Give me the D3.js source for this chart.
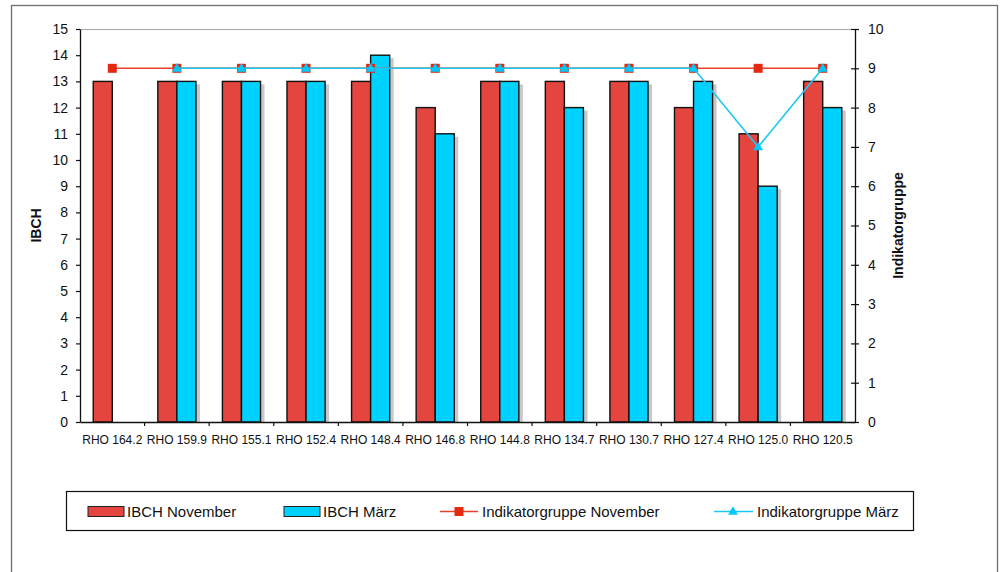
<!DOCTYPE html>
<html>
<head>
<meta charset="utf-8">
<script src="https://cdn.jsdelivr.net/npm/d3@7"></script>
<style>
  body { margin: 0; background: #fff; }
  svg { display: block; font-family: "Liberation Sans", Arial, sans-serif; }
</style>
</head>
<body>
<svg id="chart" width="1005" height="572"></svg>
<script>
// Sampling stations along the river
const categories = ["RHO 164.2", "RHO 159.9", "RHO 155.1", "RHO 152.4", "RHO 148.4", "RHO 146.8",
                    "RHO 144.8", "RHO 134.7", "RHO 130.7", "RHO 127.4", "RHO 125.0", "RHO 120.5"];
// IBCH index values (left axis)
const ibchNovember = [13, 13, 13, 13, 13, 12, 13, 13, 13, 12, 11, 13];
const ibchMaerz    = [null, 13, 13, 13, 14, 11, 13, 12, 13, 13, 9, 12];
// Indicator group (right axis)
const indNovember  = [9, 9, 9, 9, 9, 9, 9, 9, 9, 9, 9, 9];
const indMaerz     = [null, 9, 9, 9, 9, 9, 9, 9, 9, 9, 7, 9];
const leftTicks  = d3.range(0, 16);
const rightTicks = d3.range(0, 11);

const colNovBar = "#e5453f";
const colMarBar = "#00d2ff";
const colNovLine = "#e8402a";
const colNovMark = "#e32a10";
const colMarLine = "#1cc8f2";
const colMarMark = "#00c8ff";

const svg = d3.select("#chart");
const plot = { left: 80, right: 855, top: 29, bottom: 422 };

// outer chart frame
svg.append("rect").attr("x", 11.5).attr("y", 5.5).attr("width", 986).attr("height", 620)
  .attr("fill", "none").attr("stroke", "#6e6e6e").attr("stroke-width", 1.3);

const x = d3.scaleBand().domain(categories).range([plot.left, plot.right]).padding(0);
const yL = d3.scaleLinear().domain([0, 15]).range([plot.bottom, plot.top]);
const yR = d3.scaleLinear().domain([0, 10]).range([plot.bottom, plot.top]);
const bw = x.bandwidth() * 0.295;

// plot area top border
svg.append("line").attr("x1", plot.left).attr("x2", plot.right)
  .attr("y1", plot.top + 0.5).attr("y2", plot.top + 0.5)
  .attr("stroke", "#a8a8a8").attr("stroke-width", 1);

// bars: November
svg.append("g").selectAll("rect")
  .data(categories.map((c, i) => ({ c, v: ibchNovember[i] })).filter(d => d.v != null))
  .join("rect")
  .attr("x", d => x(d.c) + x.bandwidth() / 2 - bw)
  .attr("y", d => yL(d.v))
  .attr("width", bw)
  .attr("height", d => yL(0) - yL(d.v))
  .attr("fill", colNovBar).attr("stroke", "#111").attr("stroke-width", 1.4);

// bars: März with drop shadow
const marData = categories.map((c, i) => ({ c, v: ibchMaerz[i] })).filter(d => d.v != null);
svg.append("g").selectAll("rect")
  .data(marData)
  .join("rect")
  .attr("x", d => x(d.c) + x.bandwidth() / 2 + 4)
  .attr("y", d => yL(d.v) + 3)
  .attr("width", bw)
  .attr("height", d => yL(0) - yL(d.v) - 3)
  .attr("fill", "#c8c8c8");
svg.append("g").selectAll("rect")
  .data(marData)
  .join("rect")
  .attr("x", d => x(d.c) + x.bandwidth() / 2)
  .attr("y", d => yL(d.v))
  .attr("width", bw)
  .attr("height", d => yL(0) - yL(d.v))
  .attr("fill", colMarBar).attr("stroke", "#111").attr("stroke-width", 1.4);

// left axis
const gL = svg.append("g").attr("transform", `translate(${plot.left},0)`)
  .call(d3.axisLeft(yL).tickValues(leftTicks).tickFormat(d3.format("d")).tickSize(4).tickPadding(8).tickSizeOuter(0));
gL.select(".domain").attr("stroke", "#111").attr("stroke-width", 1.3);
gL.selectAll(".tick line").attr("stroke", "#111").attr("stroke-width", 1.2);
gL.selectAll("text").attr("font-size", 14).attr("fill", "#111")
  .attr("font-family", "'Liberation Sans', Arial, sans-serif");

// right axis with crossing ticks
const gR = svg.append("g").attr("transform", `translate(${plot.right},0)`)
  .call(d3.axisRight(yR).tickValues(rightTicks).tickFormat(d3.format("d")).tickSize(4).tickPadding(9).tickSizeOuter(0));
gR.select(".domain").attr("stroke", "#111").attr("stroke-width", 1.3);
gR.selectAll(".tick line").attr("x1", -4).attr("stroke", "#111").attr("stroke-width", 1.2);
gR.selectAll("text").attr("font-size", 14).attr("fill", "#111")
  .attr("font-family", "'Liberation Sans', Arial, sans-serif");

// bottom axis: labels centred in bands, ticks between categories
const gB = svg.append("g").attr("transform", `translate(0,${plot.bottom})`)
  .call(d3.axisBottom(x).tickSize(0).tickPadding(13));
gB.select(".domain").attr("stroke", "#111").attr("stroke-width", 1.3);
gB.selectAll("text").attr("font-size", 12).attr("fill", "#111")
  .attr("font-family", "'Liberation Sans', Arial, sans-serif");
gB.append("g").selectAll("line")
  .data(categories.slice(1))
  .join("line")
  .attr("x1", d => x(d)).attr("x2", d => x(d))
  .attr("y1", 0).attr("y2", 4)
  .attr("stroke", "#111").attr("stroke-width", 1.2);

// Indikatorgruppe lines
const lineGen = d3.line()
  .defined(d => d.v != null)
  .x(d => x(d.c) + x.bandwidth() / 2)
  .y(d => yR(d.v));
const novPts = categories.map((c, i) => ({ c, v: indNovember[i] }));
const marPts = categories.map((c, i) => ({ c, v: indMaerz[i] }));

svg.append("path").datum(novPts).attr("d", lineGen)
  .attr("fill", "none").attr("stroke", colNovLine).attr("stroke-width", 1.6);
svg.append("g").selectAll("rect")
  .data(novPts.filter(d => d.v != null))
  .join("rect")
  .attr("x", d => x(d.c) + x.bandwidth() / 2 - 4.5)
  .attr("y", d => yR(d.v) - 4.5)
  .attr("width", 9).attr("height", 9)
  .attr("fill", colNovMark);

svg.append("path").datum(marPts).attr("d", lineGen)
  .attr("fill", "none").attr("stroke", colMarLine).attr("stroke-width", 1.6);
const tri = d3.symbol().type(d3.symbolTriangle).size(42);
svg.append("g").selectAll("path")
  .data(marPts.filter(d => d.v != null))
  .join("path")
  .attr("d", tri)
  .attr("transform", d => `translate(${x(d.c) + x.bandwidth() / 2},${yR(d.v) + 0.5})`)
  .attr("fill", colMarMark);

// axis titles
svg.append("text")
  .attr("transform", `translate(41,${(plot.top + plot.bottom) / 2}) rotate(-90)`)
  .attr("text-anchor", "middle").attr("font-size", 14).attr("font-weight", "bold").attr("fill", "#111")
  .text("IBCH");
svg.append("text")
  .attr("transform", `translate(903,${(plot.top + plot.bottom) / 2}) rotate(-90)`)
  .attr("text-anchor", "middle").attr("font-size", 14).attr("font-weight", "bold").attr("fill", "#111")
  .text("Indikatorgruppe");

// legend
const lg = svg.append("g");
lg.append("rect").attr("x", 66.5).attr("y", 491.5).attr("width", 847).attr("height", 39)
  .attr("fill", "#fff").attr("stroke", "#111").attr("stroke-width", 1.2);
const ly = 511.5;
lg.append("rect").attr("x", 88).attr("y", ly - 5).attr("width", 36).attr("height", 10)
  .attr("fill", colNovBar).attr("stroke", "#222").attr("stroke-width", 1);
lg.append("rect").attr("x", 284).attr("y", ly - 5).attr("width", 36).attr("height", 10)
  .attr("fill", colMarBar).attr("stroke", "#222").attr("stroke-width", 1);
lg.append("line").attr("x1", 440).attr("x2", 478).attr("y1", ly).attr("y2", ly)
  .attr("stroke", colNovLine).attr("stroke-width", 1.6);
lg.append("rect").attr("x", 459 - 4.5).attr("y", ly - 4.5).attr("width", 9).attr("height", 9)
  .attr("fill", colNovMark);
lg.append("line").attr("x1", 714).attr("x2", 753).attr("y1", ly).attr("y2", ly)
  .attr("stroke", colMarLine).attr("stroke-width", 1.6);
lg.append("path").attr("d", tri).attr("transform", `translate(733,${ly + 0.5})`).attr("fill", colMarMark);

const legendItems = [
  { t: "IBCH November", x: 127 },
  { t: "IBCH März", x: 323 },
  { t: "Indikatorgruppe November", x: 482 },
  { t: "Indikatorgruppe März", x: 757 }
];
lg.selectAll("text.lt").data(legendItems).join("text")
  .attr("class", "lt")
  .attr("x", d => d.x).attr("y", ly + 5.5)
  .attr("font-size", 15).attr("fill", "#111")
  .text(d => d.t);
</script>
</body>
</html>
